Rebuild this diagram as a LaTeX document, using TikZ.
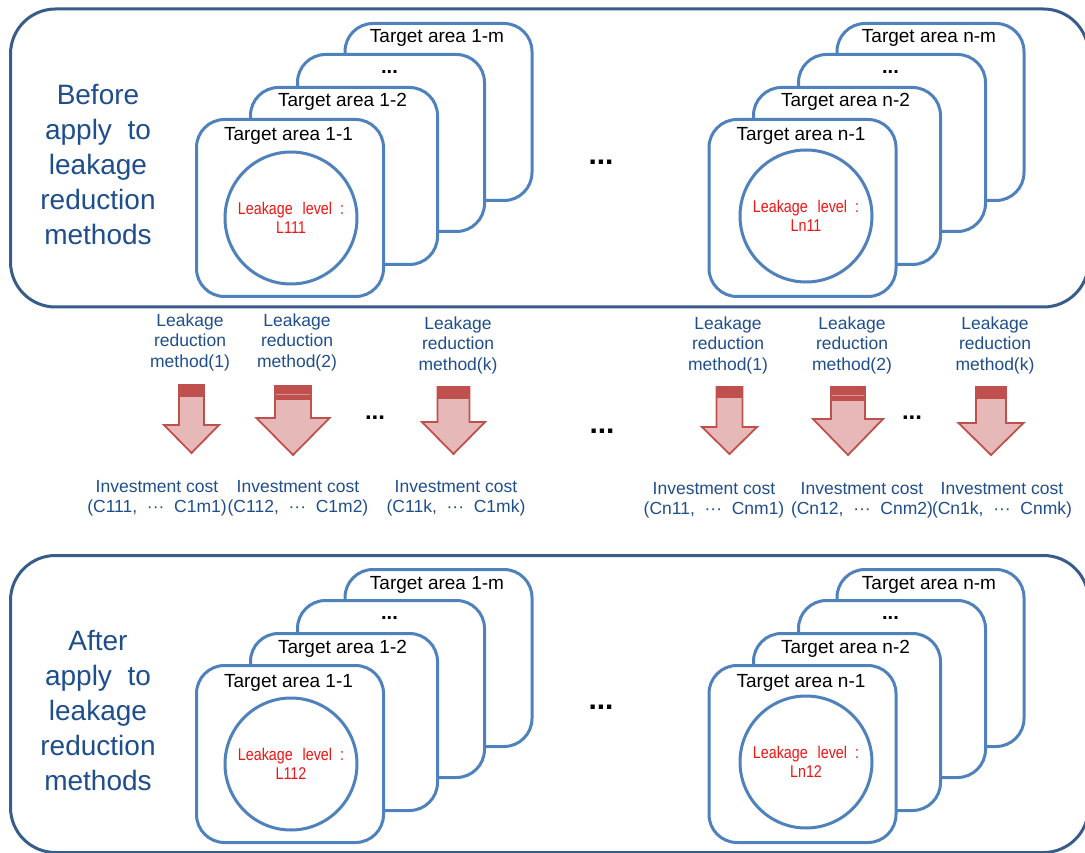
\documentclass[tikz,border=0pt]{standalone}
\usepackage{fontspec}
\setmainfont{Liberation Sans}
\newfontfamily\narrowsans[FakeStretch=0.84]{Liberation Sans}

\definecolor{frameblue}{RGB}{56,93,138}
\definecolor{cardblue}{RGB}{79,129,189}
\definecolor{labelblue}{RGB}{31,78,140}
\definecolor{levelred}{RGB}{240,20,20}
\definecolor{arrowred}{RGB}{192,80,77}
\definecolor{arrowpink}{RGB}{230,185,184}
\definecolor{stripered}{RGB}{220,145,143}

% block arrow pointing down: centre x, top y, shaft half-width,
% head half-width, head base y, tip y, depth of the dark band
\newcommand{\blockarrow}[7]{%
  \fill[arrowpink] (#1-#3,#2) -- (#1+#3,#2) -- (#1+#3,#5) -- (#1+#4,#5)
    -- (#1,#6) -- (#1-#4,#5) -- (#1-#3,#5) -- cycle;
  \fill[arrowred] (#1-#3,#2) rectangle (#1+#3,#2+#7);
  \draw[arrowedge] (#1-#3,#2) -- (#1+#3,#2) -- (#1+#3,#5) -- (#1+#4,#5)
    -- (#1,#6) -- (#1-#4,#5) -- (#1-#3,#5) -- cycle;
}
% light stripe across the band of the wider arrows
\newcommand{\bandstripe}[3]{%
  \draw[stripered, line width=1.6pt] (#1-#3+1,#2+8.5) -- (#1+#3-1,#2+8.5);
}

\begin{document}
\begin{tikzpicture}[x=1pt,y=-1pt,
  frame/.style={draw=frameblue, line width=3pt, rounded corners=45pt,
    fill=white, anchor=north west, inner sep=0pt,
    minimum width=1078pt, minimum height=298pt},
  card/.style={draw=cardblue, line width=3pt, rounded corners=28pt,
    fill=white, anchor=north west, inner sep=0pt,
    minimum width=187pt, minimum height=177pt},
  cardtitle/.style={anchor=base, inner sep=0pt,
    font=\fontsize{19}{22}\selectfont},
  carddots/.style={inner sep=0pt, font=\bfseries\fontsize{20}{20}\selectfont},
  level/.style={circle, draw=cardblue, line width=3pt, minimum size=132pt,
    inner sep=0pt, align=center, text=levelred,
    font=\narrowsans\fontsize{17}{18.5}\selectfont},
  sidelabel/.style={text=labelblue, align=center, inner sep=0pt,
    font=\fontsize{28}{35}\selectfont},
  method/.style={text=labelblue, align=center, inner sep=0pt,
    font=\fontsize{17.5}{20.5}\selectfont},
  cost/.style={text=labelblue, align=center, inner sep=0pt,
    font=\fontsize{17.5}{20}\selectfont},
  bigdots/.style={inner sep=0pt, font=\bfseries\fontsize{30}{30}\selectfont},
  smalldots/.style={inner sep=0pt, font=\bfseries\fontsize{24}{24}\selectfont},
  arrowedge/.style={draw=arrowred, line width=1.8pt, line join=miter}
]
\useasboundingbox (0,0) rectangle (1085,853);
\clip (0,0) rectangle (1085,853);

% ---------------- before ----------------
\node[frame] (before) at (9,7.5) {};
\node[sidelabel] (beforelbl) at (98,165)
  {Before\\apply\ \ to\\leakage\\reduction\\methods};

% first target area stack
\node[card] (b1m) at (343.5,22) {};
\node[cardtitle] (b1mt) at (437,43) {Target area 1-m};
\node[card] (b1d) at (296,53) {};
\node[carddots] (b1dt) at (389.5,72) {...};
\node[card] (b12) at (249,86) {};
\node[cardtitle] (b12t) at (342.5,107) {Target area 1-2};
\node[card] (b11) at (195,118) {};
\node[cardtitle] (b11t) at (288.5,141) {Target area 1-1};
\node[level] (bL1) at (291,218) {Leakage\hspace{10pt}level\hspace{8pt}:\\L111};

\node[bigdots] (bgap) at (601,162) {...};

% last target area stack
\node[card] (bnm) at (835.5,22) {};
\node[cardtitle] (bnmt) at (929,43) {Target area n-m};
\node[card] (bnd) at (797,53) {};
\node[carddots] (bndt) at (890.5,72) {...};
\node[card] (bn2) at (752,86) {};
\node[cardtitle] (bn2t) at (845.5,107) {Target area n-2};
\node[card] (bn1) at (707.5,118) {};
\node[cardtitle] (bn1t) at (801,141) {Target area n-1};
\node[level] (bLn) at (806,216) {Leakage\hspace{10pt}level\hspace{8pt}:\\Ln11};

% ---------------- methods and costs ----------------
\node[method] (m11) at (190,342) {Leakage\\reduction\\method(1)};
\node[method] (m12) at (297,342) {Leakage\\reduction\\method(2)};
\node[method] (m1k) at (458,345) {Leakage\\reduction\\method(k)};
\node[method] (mn1) at (728,345) {Leakage\\reduction\\method(1)};
\node[method] (mn2) at (852,345) {Leakage\\reduction\\method(2)};
\node[method] (mnk) at (995,345) {Leakage\\reduction\\method(k)};

\blockarrow{191.5}{385}{12.5}{27.5}{425}{453}{12}
\blockarrow{293}{386}{18}{36.5}{418}{455}{14}
\bandstripe{293}{386}{18}
\blockarrow{453.5}{387}{16}{31.5}{422}{454}{12}
\blockarrow{729.5}{387}{13}{27.5}{427}{454}{11}
\blockarrow{848}{387}{17}{35}{419}{455}{14}
\bandstripe{848}{387}{17}
\blockarrow{991}{387}{15}{32.5}{423}{455}{12}

\node[smalldots] (mdots1) at (375,418) {...};
\node[bigdots] (mgap) at (602,431) {...};
\node[smalldots] (mdotsn) at (912,418) {...};

\node[cost] (c11) at (157,498) {Investment cost\\(C111,\ \ ···\ \ C1m1)};
\node[cost] (c12) at (298,498) {Investment cost\\(C112,\ \ ···\ \ C1m2)};
\node[cost] (c1k) at (456,498) {Investment cost\\(C11k,\ \ ···\ \ C1mk)};
\node[cost] (cn1) at (714,500) {Investment cost\\(Cn11,\ \ ···\ \ Cnm1)};
\node[cost] (cn2) at (862,500) {Investment cost\\(Cn12,\ \ ···\ \ Cnm2)};
\node[cost] (cnk) at (1002,500) {Investment cost\\(Cn1k,\ \ ···\ \ Cnmk)};

% ---------------- after ----------------
\node[frame, minimum height=297pt] (after) at (9,554) {};
\node[sidelabel] (afterlbl) at (98,711)
  {After\\apply\ \ to\\leakage\\reduction\\methods};

\node[card] (a1m) at (343.5,568) {};
\node[cardtitle] (a1mt) at (437,589) {Target area 1-m};
\node[card] (a1d) at (296,599) {};
\node[carddots] (a1dt) at (389.5,618) {...};
\node[card] (a12) at (249,632) {};
\node[cardtitle] (a12t) at (342.5,653) {Target area 1-2};
\node[card] (a11) at (195,664) {};
\node[cardtitle] (a11t) at (288.5,687) {Target area 1-1};
\node[level] (aL1) at (291,764) {Leakage\hspace{10pt}level\hspace{8pt}:\\L112};

\node[bigdots] (agap) at (601,707) {...};

\node[card] (anm) at (835.5,568) {};
\node[cardtitle] (anmt) at (929,589) {Target area n-m};
\node[card] (and) at (797,599) {};
\node[carddots] (andt) at (890.5,618) {...};
\node[card] (an2) at (752,632) {};
\node[cardtitle] (an2t) at (845.5,653) {Target area n-2};
\node[card] (an1) at (707.5,664) {};
\node[cardtitle] (an1t) at (801,687) {Target area n-1};
\node[level] (aLn) at (806,762) {Leakage\hspace{10pt}level\hspace{8pt}:\\Ln12};
\end{tikzpicture}
\end{document}
